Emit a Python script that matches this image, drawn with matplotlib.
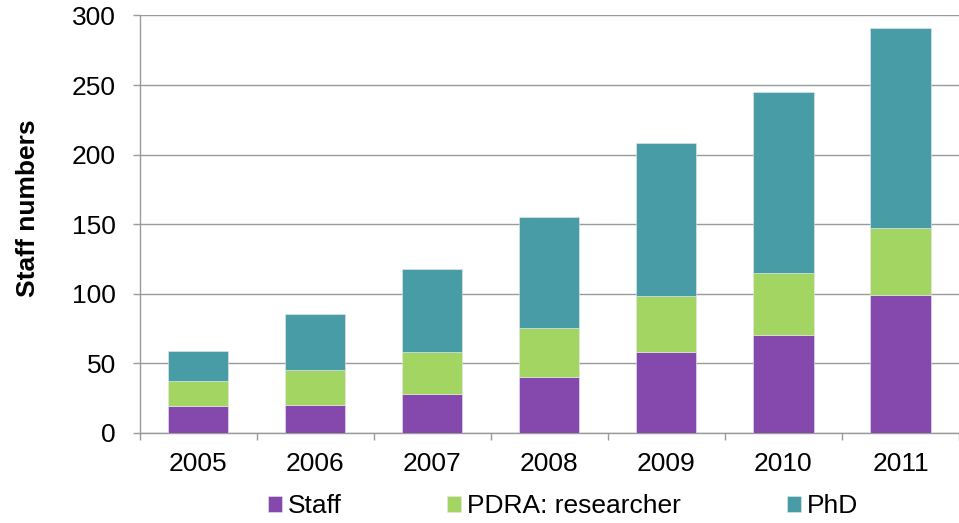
import numpy as np
from matplotlib import pyplot as plt

plt.rcParams['font.family'] = ['Liberation Sans', 'DejaVu Sans']

years = ['2005', '2006', '2007', '2008', '2009', '2010', '2011']
staff = [19, 20, 28, 40, 58, 70, 99]
pdra = [18, 25, 30, 35, 40, 45, 48]
phd = [22, 40, 60, 80, 110, 130, 144]
series_names = ['Staff', 'PDRA: researcher', 'PhD']
colors = ['#8549AD', '#A2D562', '#489CA5']

fig = plt.figure(figsize=(9.59, 5.23), dpi=100)
ax = fig.add_axes([0.1455, 0.1727, 0.8545, 0.7977])

x = np.arange(len(years))
bottom = np.zeros(len(years))
for vals, name, col in zip([staff, pdra, phd], series_names, colors):
    ax.bar(x, vals, width=0.515, bottom=bottom, color=col, label=name,
           edgecolor='#e8e8f0', linewidth=0.4, zorder=3)
    bottom += np.array(vals)

# axes look
ax.set_xlim(-0.5, 6.474)
ax.set_ylim(0, 300)
ax.set_yticks(range(0, 301, 50))
ax.grid(axis='y', color='#9a9a9a', linewidth=1.0, zorder=0)
ax.set_axisbelow(True)
for s in ['top', 'right']:
    ax.spines[s].set_visible(False)
for s in ['left', 'bottom']:
    ax.spines[s].set_color('#9a9a9a')
    ax.spines[s].set_linewidth(1.0)

ax.set_xticks(x)
ax.set_xticklabels(years)
ax.set_xticks(np.arange(-0.5, 7, 1.0), minor=True)
ax.tick_params(axis='x', which='major', length=0, pad=14, labelsize=19)
ax.tick_params(axis='x', which='minor', length=5, width=1.0, color='#9a9a9a')
ax.tick_params(axis='y', length=5, width=1.0, color='#9a9a9a', pad=12, labelsize=19)

fig.text(0.029, 0.602, 'Staff numbers', rotation=90, ha='center', va='center',
         fontsize=19, fontweight='bold')

fig.legend(loc='center', bbox_to_anchor=(0.587, 0.032), ncol=3, frameon=False,
           fontsize=19, handlelength=0.53, handleheight=0.53, handletextpad=0.23,
           columnspacing=4.0, borderaxespad=0, borderpad=0)

plt.savefig('out.png', dpi=100)
